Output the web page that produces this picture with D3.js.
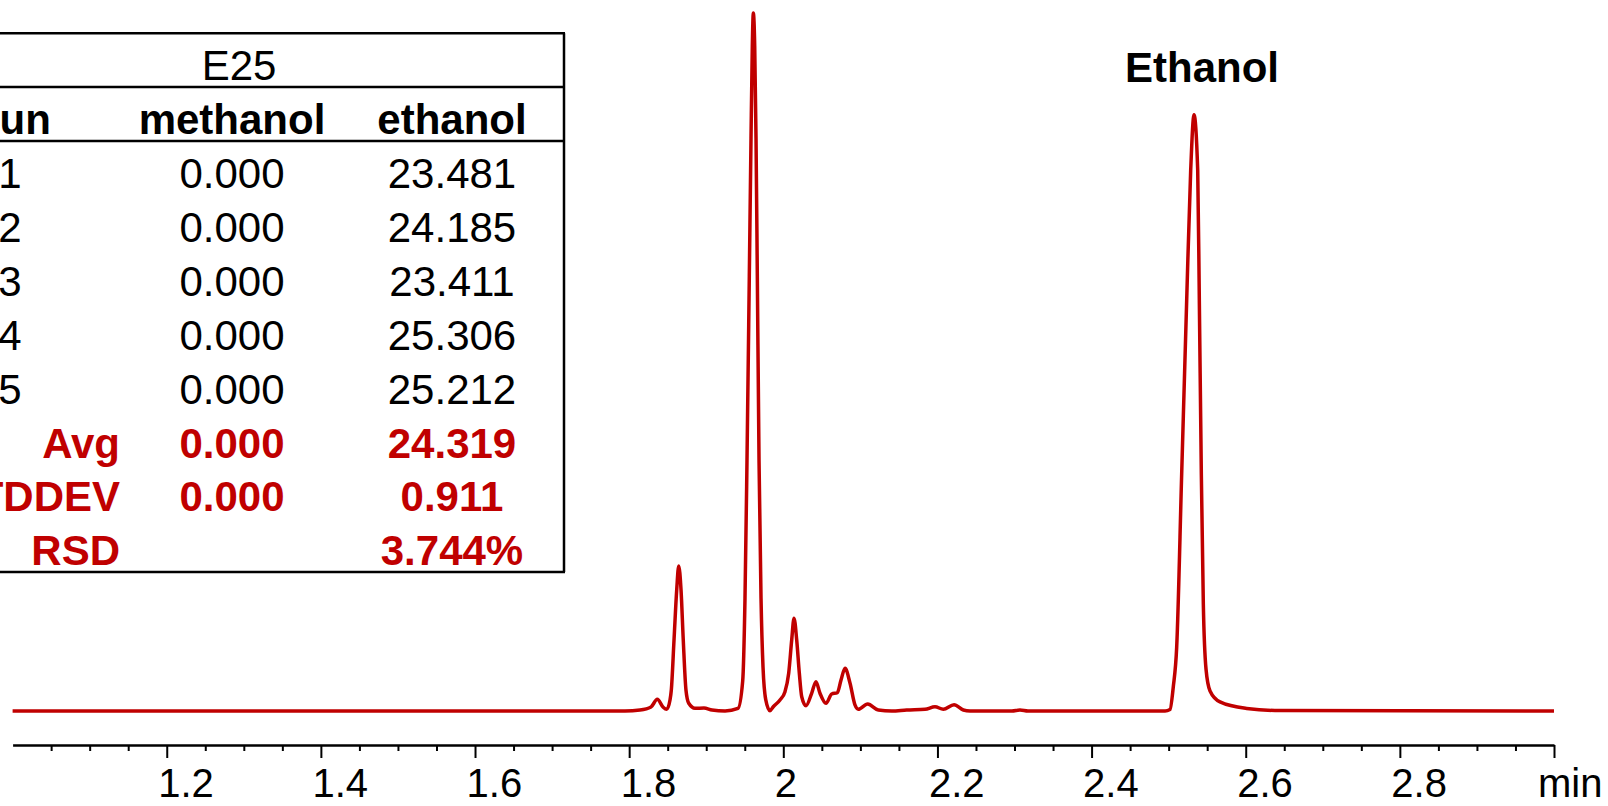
<!DOCTYPE html>
<html>
  <head>
    <meta charset="UTF-8">
    <title>E25 chromatogram</title>
    <style>
      body { margin: 0; background: #fff; }
      svg { display: block; font-family: "Liberation Sans", Arial, sans-serif; }
    </style>
  </head>
  <body>

    <svg class="chrom"></svg>

    <script src="https://cdnjs.cloudflare.com/ajax/libs/d3/7.8.5/d3.min.js"></script>
    <script>

/* DATA */

// retention time (min) and detector signal (arbitrary units)
var rtMin = [1.0000, 1.7946, 1.8141, 1.8283, 1.8365, 1.8439, 1.8487, 1.8530, 1.8547, 1.8582,
  1.8617, 1.8643, 1.8673, 1.8702, 1.8737, 1.8773, 1.8854, 1.8971, 1.9075, 1.9244,
  1.9412, 1.9473, 1.9503, 1.9529, 1.9559, 1.9581, 1.9598, 1.9611, 1.9629, 1.9646,
  1.9663, 1.9685, 1.9711, 1.9737, 1.9772, 1.9827, 1.9870, 1.9957, 2.0022, 2.0070,
  2.0109, 2.0139, 2.0174, 2.0208, 2.0239, 2.0295, 2.0368, 2.0424, 2.0476, 2.0554,
  2.0628, 2.0701, 2.0749, 2.0801, 2.0866, 2.0930, 2.0973, 2.1095, 2.1233, 2.1407,
  2.1601, 2.1839, 2.1968, 2.2076, 2.2215, 2.2336, 2.2423, 2.2967, 2.3071, 2.3175,
  2.4953, 2.5017, 2.5060, 2.5104, 2.5169, 2.5234, 2.5286, 2.5329, 2.5377, 2.5398,
  2.5424, 2.5450, 2.5485, 2.5537, 2.5666, 2.6013, 2.6445, 3.0000];

var signal = [0, 0, 0.14, 0.57, 1.67, 0.57, 0.24, 1.57, 3.0, 10.14,
  17.29, 20.71, 17.29, 10.14, 3.0, 1.10, 0.39, 0.43, 0.14, 0,
  0.36, 4.26, 16.09, 35.81, 62.11, 81.84, 95.0, 99.71, 95.0, 81.84,
  62.11, 35.81, 16.09, 6.23, 1.63, 0.04, 0.61, 1.57, 2.76, 5.39,
  10.14, 13.24, 10.14, 5.39, 2.04, 0.76, 2.53, 4.19, 2.53, 1.10,
  2.43, 2.61, 4.43, 6.10, 3.96, 0.86, 0.24, 1.0, 0.14, 0,
  0.14, 0.24, 0.61, 0.24, 0.9, 0.14, 0, 0, 0.14, 0,
  0, 0.2, 3.43, 9.06, 33.86, 58.66, 77.26, 85.19, 77.26, 58.66,
  33.86, 15.26, 5.96, 2.86, 1.3, 0.37, 0.06, 0];

var majorTicks = [1.2, 1.4, 1.6, 1.8, 2.0, 2.2, 2.4, 2.6, 2.8, 3.0];
var tickLabels = ["1.2", "1.4", "1.6", "1.8", "2", "2.2", "2.4", "2.6", "2.8", ""];
var peakName = "Ethanol";
var peakRt = 2.5329;

// results table
var sampleName = "E25";
var headers = ["Run", "methanol", "ethanol"];
var runs = ["1", "2", "3", "4", "5"];
var methanolRuns = ["0.000", "0.000", "0.000", "0.000", "0.000"];
var ethanolRuns = ["23.481", "24.185", "23.411", "25.306", "25.212"];
var statLabels = ["Avg", "STDDEV", "RSD"];
var methanolStats = ["0.000", "0.000", ""];
var ethanolStats = ["24.319", "0.911", "3.744%"];

/* DRAW */

var width = 1608, height = 806;
var red = "#c00000";

var svg = d3.select("svg")
    .attr("width", width)
    .attr("height", height);

var x = d3.scaleLinear().domain([1.0, 3.0]).range([12.6, 1554]);
var y = d3.scaleLinear().domain([0, 100]).range([711, 11]);

var trace = rtMin.map(function(t, i) { return [t, signal[i]]; });

var line = d3.line()
    .x(function(d) { return x(d[0]); })
    .y(function(d) { return y(d[1]); })
    .curve(d3.curveMonotoneX);

svg.append("path")
    .datum(trace)
    .attr("fill", "none")
    .attr("stroke", red)
    .attr("stroke-width", 3.5)
    .attr("stroke-linejoin", "round")
    .attr("d", line);

// x axis: minor ticks every 0.05, major every 0.2
var axisY = 745;
var minorTicks = d3.range(21, 60).map(function(i) { return i * 0.05; })
    .filter(function(v) { return Math.abs(Math.round(v * 5) - v * 5) > 1e-6; });

svg.append("g")
    .attr("transform", "translate(0," + axisY + ")")
    .call(d3.axisBottom(x).tickValues(minorTicks).tickSize(6).tickSizeOuter(0).tickFormat(""))
    .call(function(g) {
      g.select(".domain").attr("stroke-width", 2.5);
      g.selectAll(".tick line").attr("stroke-width", 2);
    });

var major = svg.append("g")
    .attr("transform", "translate(0," + axisY + ")")
    .call(d3.axisBottom(x).tickValues(majorTicks).tickSize(13).tickSizeOuter(0)
      .tickFormat(function(d, i) { return tickLabels[i]; }));

major.select(".domain").remove();
major.selectAll(".tick line").attr("stroke-width", 2);
major.selectAll(".tick text")
    .attr("font-family", "Liberation Sans, Arial, sans-serif")
    .attr("font-size", 40)
    .attr("fill", "#000")
    .attr("text-anchor", "start")
    .attr("x", -9)
    .attr("y", 52)
    .attr("dy", 0);

svg.append("text")
    .attr("x", 1538)
    .attr("y", 797)
    .attr("font-size", 40)
    .text("min");

// peak label
svg.append("text")
    .attr("x", x(peakRt) - 69)
    .attr("y", 82)
    .attr("font-size", 42)
    .attr("font-weight", "bold")
    .text(peakName);

// results table
var table = svg.append("g").attr("class", "table");
var col = [10, 232, 452];
var tblRight = 564;
var rowLines = [33.3, 87, 141, 572];

rowLines.forEach(function(ly) {
  table.append("line")
      .attr("x1", -5).attr("x2", tblRight + 1)
      .attr("y1", ly).attr("y2", ly)
      .attr("stroke", "#000").attr("stroke-width", 2.5);
});
table.append("line")
    .attr("x1", tblRight).attr("x2", tblRight)
    .attr("y1", rowLines[0]).attr("y2", rowLines[3])
    .attr("stroke", "#000").attr("stroke-width", 2.5);

function cell(txt, cx, by, opts) {
  opts = opts || {};
  table.append("text")
      .attr("x", cx)
      .attr("y", by)
      .attr("text-anchor", opts.anchor || "middle")
      .attr("font-size", 42)
      .attr("font-weight", opts.bold ? "bold" : "normal")
      .attr("fill", opts.fill || "#000")
      .text(txt);
}

cell(sampleName, 239, 80);
headers.forEach(function(h, i) { cell(h, col[i], 134, { bold: true }); });

var rowY = d3.range(8).map(function(i) { return 188 + i * 53.9; });

runs.forEach(function(r, i) {
  cell(r, col[0], rowY[i]);
  cell(methanolRuns[i], col[1], rowY[i]);
  cell(ethanolRuns[i], col[2], rowY[i]);
});

statLabels.forEach(function(s, i) {
  var by = rowY[runs.length + i];
  cell(s, 120, by, { bold: true, fill: red, anchor: "end" });
  cell(methanolStats[i], col[1], by, { bold: true, fill: red });
  cell(ethanolStats[i], col[2], by, { bold: true, fill: red });
});

</script>
  </body>
</html>
